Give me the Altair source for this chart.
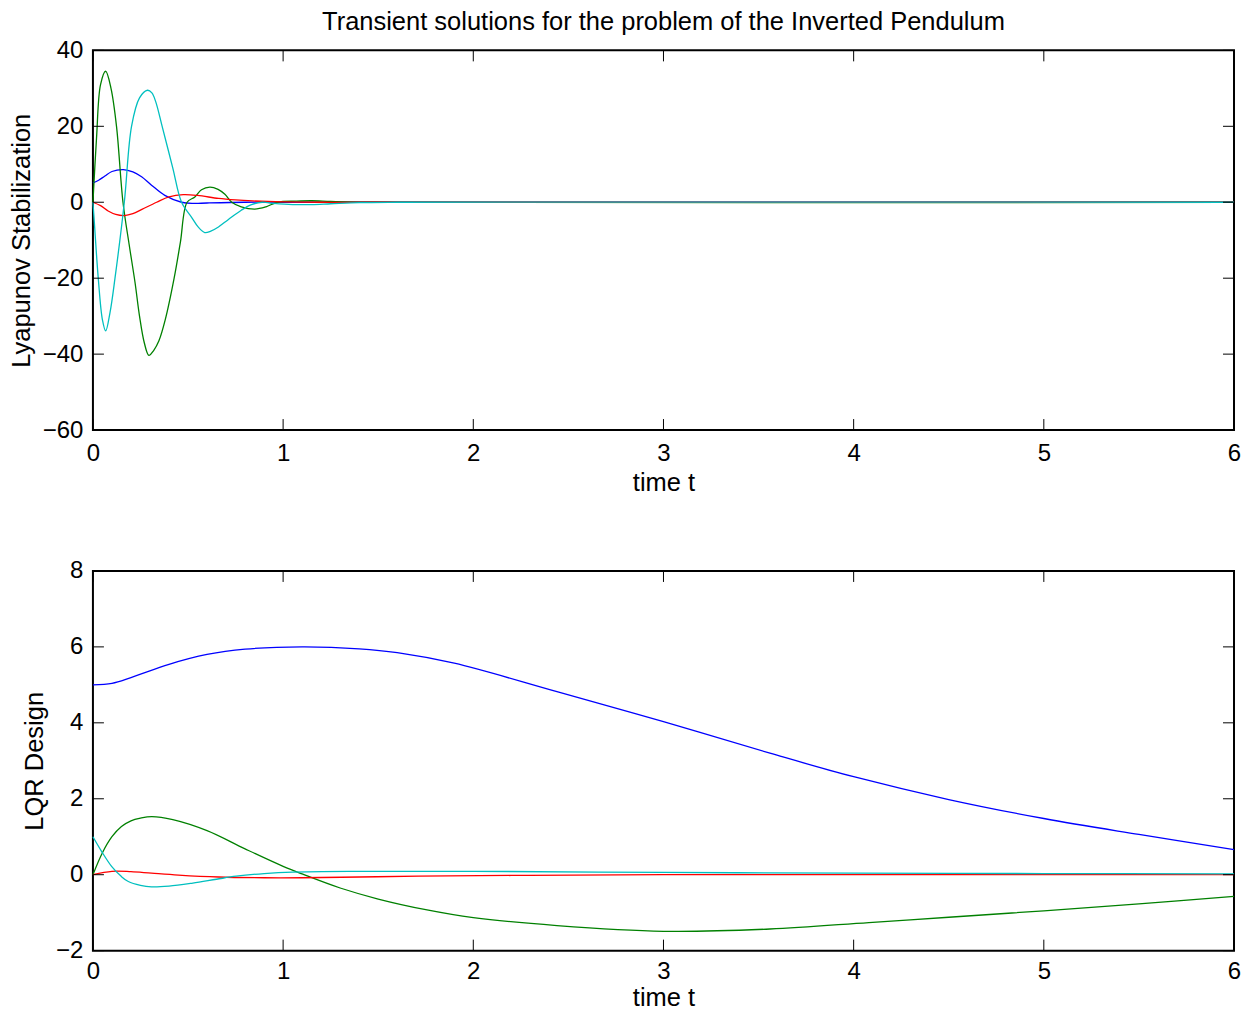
import altair as alt
import pandas as pd

# ---------------- data ----------------
series_names = ["x1", "x2", "x3", "x4"]
series_colors = ["#0000ff", "#008000", "#ff0000", "#00bfbf"]

# Top panel: Lyapunov Stabilization
top_t_blue = [0, 0.03, 0.063, 0.1, 0.16, 0.21, 0.256, 0.308, 0.378, 0.466, 0.53, 0.6, 0.8, 1.0, 1.5, 6.0]
top_v_blue = [5.1, 5.8, 6.9, 8.1, 8.6, 8.0, 6.7, 4.5, 1.8, 0.0, -0.3, -0.2, 0.0, 0.0, 0.0, 0.0]

top_t_green = [0, 0.019, 0.04, 0.067, 0.095, 0.124, 0.158, 0.19, 0.221, 0.245, 0.27, 0.294, 0.32, 0.347,
               0.38, 0.427, 0.46, 0.495, 0.536, 0.571, 0.615, 0.658, 0.694, 0.73, 0.78, 0.851, 0.91,
               0.97, 1.07, 1.15, 1.25, 1.4, 6.0]
top_v_green = [0, 17, 31, 34.5, 30, 20, 0, -11, -21, -30, -37, -40.3, -39, -36.5,
               -31, -20, -10.5, 0, 1.4, 3.3, 4.0, 3.4, 2.1, 0, -1.2, -1.8, -1.2,
               0, 0.3, 0.4, 0.2, 0, 0]

top_t_red = [0, 0.04, 0.08, 0.12, 0.165, 0.21, 0.26, 0.335, 0.4, 0.475, 0.55, 0.66, 0.75, 0.84, 1.0, 1.2, 1.5, 6.0]
top_v_red = [0, -0.9, -2.3, -3.2, -3.5, -3.0, -1.8, 0.0, 1.4, 2.0, 1.8, 1.0, 0.6, 0.35, 0.1, 0.0, 0.0, 0.0]

top_t_cyan = [0, 0.007, 0.028, 0.05, 0.067, 0.09, 0.116, 0.165, 0.203, 0.245, 0.287, 0.31, 0.33, 0.364, 0.42,
              0.466, 0.518, 0.553, 0.588, 0.62, 0.66, 0.711, 0.78, 0.83, 0.89, 0.95, 1.05, 1.15, 1.25,
              1.4, 1.6, 6.0]
top_v_cyan = [0, -5.0, -20, -31, -33.9, -29, -20, 0, 20, 27.5, 29.5, 28.8, 26.5, 20, 9,
              0, -3.9, -6.5, -8.0, -7.6, -6.5, -4.6, -2.1, -0.7, 0.0, -0.3, -0.6, -0.6, -0.4,
              -0.1, 0, 0]

# Bottom panel: LQR Design
bot_t_blue = [0, 0.1, 0.2, 0.4, 0.6, 0.8, 1.1, 1.4, 1.6, 1.9, 2.44, 3.0, 3.56, 4.0, 4.5, 5.0, 5.5, 6.0]
bot_v_blue = [5.0, 5.04, 5.19, 5.54, 5.8, 5.94, 6.0, 5.95, 5.85, 5.57, 4.82, 4.03, 3.2, 2.58, 1.98, 1.48, 1.06, 0.66]

bot_t_green = [0, 0.05, 0.1, 0.15, 0.2, 0.25, 0.31, 0.42, 0.6, 0.8, 1.0, 1.1, 1.3, 1.5, 1.75, 2.0, 2.44,
               3.0, 3.56, 4.08, 4.5, 5.0, 5.5, 6.0]
bot_v_green = [0, 0.58, 1.0, 1.27, 1.42, 1.49, 1.53, 1.45, 1.16, 0.68, 0.22, 0.02, -0.35, -0.64, -0.92,
               -1.13, -1.34, -1.49, -1.43, -1.26, -1.12, -0.95, -0.77, -0.57]

bot_t_red = [0, 0.1, 0.2, 0.308, 0.45, 0.66, 0.9, 1.1, 1.4, 1.71, 2.2, 3.0, 6.0]
bot_v_red = [0, 0.09, 0.08, 0.04, -0.01, -0.06, -0.08, -0.08, -0.06, -0.04, -0.02, 0.0, 0.0]

bot_t_cyan = [0, 0.046, 0.098, 0.15, 0.186, 0.25, 0.308, 0.4, 0.525, 0.65, 0.753, 0.9, 1.05, 1.4, 2.0, 3.0, 4.0, 5.0, 6.0]
bot_v_cyan = [1.0, 0.61, 0.22, -0.05, -0.18, -0.28, -0.32, -0.3, -0.22, -0.12, -0.04, 0.03, 0.07, 0.09, 0.09, 0.06, 0.04, 0.03, 0.02]

x_ticks = [0, 1, 2, 3, 4, 5, 6]
top_y_ticks = [-60, -40, -20, 0, 20, 40]
bot_y_ticks = [-2, 0, 2, 4, 6, 8]

title_text = "Transient solutions for the problem of the Inverted Pendulum"
top_ylabel = "Lyapunov Stabilization"
bot_ylabel = "LQR Design"
xlabel = "time t"


def long_frame(pairs):
    rows = []
    for name, (ts, vs) in zip(series_names, pairs):
        for t, v in zip(ts, vs):
            rows.append({"t": t, "v": v, "s": name})
    return pd.DataFrame(rows)


top_df = long_frame([(top_t_blue, top_v_blue), (top_t_green, top_v_green),
                     (top_t_red, top_v_red), (top_t_cyan, top_v_cyan)])
bot_df = long_frame([(bot_t_blue, bot_v_blue), (bot_t_green, bot_v_green),
                     (bot_t_red, bot_v_red), (bot_t_cyan, bot_v_cyan)])

W, H = 1142, 380
TICK = 11
FONT = "Liberation Sans"


def panel(df, ydom, yticks, ytitle, xlabel_pad, xtitle_pad, title=None):
    xs = alt.Scale(domain=[0, 6], nice=False, zero=False)
    ys = alt.Scale(domain=ydom, nice=False, zero=False)
    xax = alt.Axis(values=x_ticks, title=xlabel, format="d", labelPadding=xlabel_pad,
                   titlePadding=xtitle_pad, labelFlush=False)
    yax = alt.Axis(values=yticks, title=ytitle, format="d", labelPadding=10, titlePadding=8,
                   labelFlush=False)
    lines = alt.Chart(df).mark_line(interpolate="catmull-rom", strokeWidth=1.3).encode(
        x=alt.X("t:Q", scale=xs, axis=xax),
        y=alt.Y("v:Q", scale=ys, axis=yax),
        color=alt.Color("s:N", scale=alt.Scale(domain=series_names, range=series_colors), legend=None),
        order=alt.Order("t:Q"),
    )
    ydf = pd.DataFrame({"v": yticks})
    xdf = pd.DataFrame({"t": x_ticks})
    tl = alt.Chart(ydf).mark_rule(color="black", strokeWidth=1).encode(
        y=alt.Y("v:Q", scale=ys, axis=yax), x=alt.value(0), x2=alt.value(TICK))
    tr = alt.Chart(ydf).mark_rule(color="black", strokeWidth=1).encode(
        y=alt.Y("v:Q", scale=ys, axis=yax), x=alt.value(W - TICK), x2=alt.value(W))
    tb = alt.Chart(xdf).mark_rule(color="black", strokeWidth=1).encode(
        x=alt.X("t:Q", scale=xs, axis=xax), y=alt.value(H - TICK), y2=alt.value(H))
    tt = alt.Chart(xdf).mark_rule(color="black", strokeWidth=1).encode(
        x=alt.X("t:Q", scale=xs, axis=xax), y=alt.value(0), y2=alt.value(TICK))
    ch = alt.layer(lines, tl, tr, tb, tt).properties(width=W, height=H)
    if title is not None:
        ch = ch.properties(title=alt.TitleParams(title, anchor="middle", frame="group", offset=3,
                                                 font=FONT, fontSize=25.5, fontWeight="normal", color="black"))
    return ch


top = panel(top_df, [-60, 40], top_y_ticks, top_ylabel, 11, 5, title_text)
bot = panel(bot_df, [-2, 8], bot_y_ticks, bot_ylabel, 9, 2)

chart = alt.vconcat(top, bot, spacing=141, bounds="flush").properties(
    padding={"left": 0, "top": 0, "right": 0, "bottom": 0},
    background="white",
).configure_view(stroke="black", strokeWidth=2).configure_axis(
    domain=False, ticks=False, grid=False,
    labelFont=FONT, labelFontSize=24, labelColor="black",
    titleFont=FONT, titleFontSize=25.5, titleFontWeight="normal", titleColor="black",
)

chart.save("out.html", embed_options={"renderer": "svg", "actions": False})
